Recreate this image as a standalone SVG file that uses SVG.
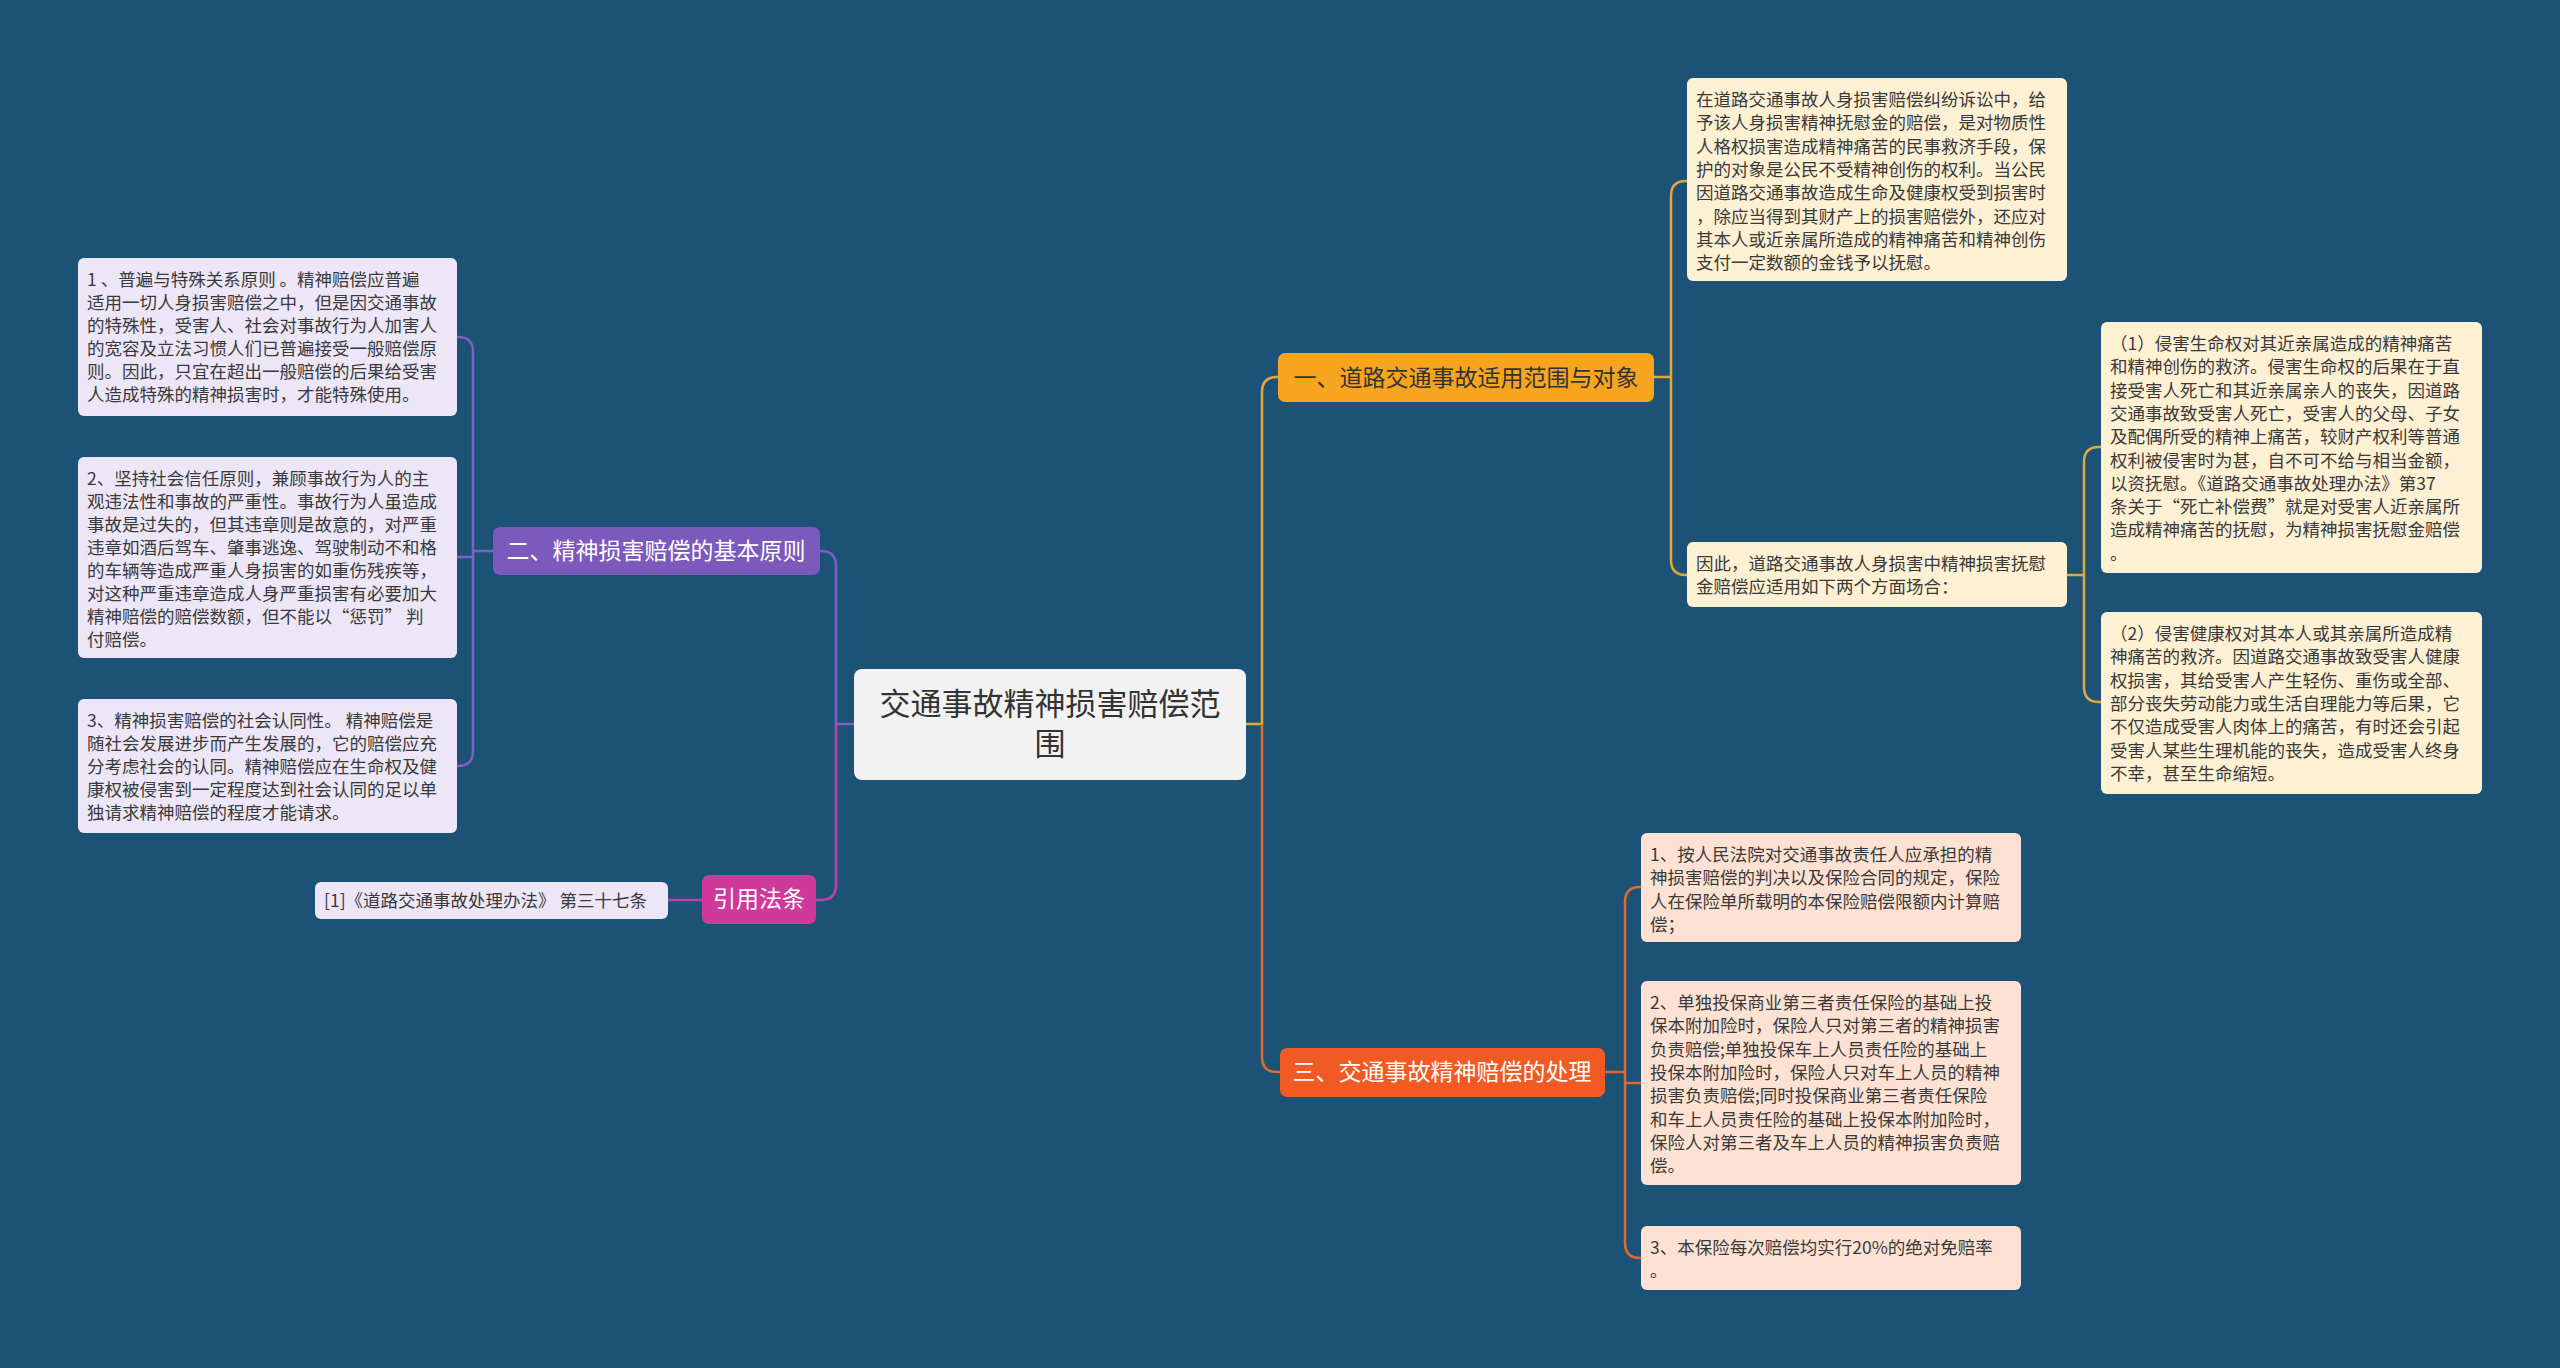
<svg xmlns="http://www.w3.org/2000/svg" width="2560" height="1368" viewBox="0 0 2560 1368">
<style>
text{font-family:"Noto Sans CJK SC","Noto Sans",sans-serif;}
.t{font-size:17.5px;fill:#3a3a3a;}
.c{fill:none;stroke-width:2.5;}
</style>
<rect width="2560" height="1368" fill="#1b5276"/>
<g id="connectors">
<path class="c" stroke="#e0a93a" d="M1246,724 H1262 V392 Q1262,377 1277,377 H1278"/>
<path class="c" stroke="#e06a2c" d="M1262,724 V1057 Q1262,1072 1277,1072 H1280"/>
<path class="c" stroke="#e0a93a" d="M1654,377 H1671 V196 Q1671,181 1686,181 H1687 M1671,377 V560 Q1671,575 1686,575 H1687"/>
<path class="c" stroke="#e0a93a" d="M2067,575 H2084 V462 Q2084,447 2099,447 H2101 M2084,575 V687 Q2084,702 2099,702 H2101"/>
<path class="c" stroke="#e06a2c" d="M1605,1072 H1625 V902 Q1625,887 1640,887 H1641 M1625,1072 V1243 Q1625,1258 1640,1258 H1641 M1625,1083 H1641"/>
<path class="c" stroke="#7e5fc4" d="M854,724 H836 V566 Q836,551 821,551 H820"/>
<path class="c" stroke="#c23fa8" d="M836,724 V885 Q836,900 821,900 H816"/>
<path class="c" stroke="#7e5fc4" d="M493,551 H473 V352 Q473,337 458,337 H457 M473,551 V751 Q473,766 458,766 H457 M473,557 H457"/>
<path class="c" stroke="#c23fa8" d="M702,900 H668"/>
</g>
<g id="center"><rect x="854" y="669" width="392" height="111" rx="8" fill="#f2f2f2"/>
<text x="1050" y="715" font-size="31" fill="#333" text-anchor="middle">交通事故精神损害赔偿范<tspan x="1050" dy="40">围</tspan></text></g>
<g id="b1"><rect x="1278" y="353" width="376" height="49" rx="7" fill="#f7a51e"/>
<text x="1466" y="386" font-size="23" fill="#333" text-anchor="middle">一、道路交通事故适用范围与对象</text></g>
<g id="b2"><rect x="493" y="527" width="327" height="48" rx="7" fill="#7c59bd"/>
<text x="656" y="559" font-size="23" fill="#fff" text-anchor="middle">二、精神损害赔偿的基本原则</text></g>
<g id="b3"><rect x="1280" y="1048" width="325" height="49" rx="7" fill="#f15a22"/>
<text x="1442" y="1080" font-size="23" fill="#fff" text-anchor="middle">三、交通事故精神赔偿的处理</text></g>
<g id="cite"><rect x="702" y="875" width="114" height="49" rx="7" fill="#cf3a9a"/>
<text x="759" y="907" font-size="23" fill="#fff" text-anchor="middle">引用法条</text></g>
<g id="citeleaf"><rect x="315" y="882" width="353" height="37" rx="6" fill="#ece6f7"/>
<text class="t" x="324" y="907">[1]《道路交通事故处理办法》 第三十七条</text></g>
<g id="l1"><rect x="78" y="258" width="379" height="158" rx="6" fill="#ece6f7"/>
<text class="t" x="87" y="286">1 、普遍与特殊关系原则 。精神赔偿应普遍<tspan x="87" dy="23">适用一切人身损害赔偿之中，但是因交通事故</tspan><tspan x="87" dy="23">的特殊性，受害人、社会对事故行为人加害人</tspan><tspan x="87" dy="23">的宽容及立法习惯人们已普遍接受一般赔偿原</tspan><tspan x="87" dy="23">则。因此，只宜在超出一般赔偿的后果给受害</tspan><tspan x="87" dy="23">人造成特殊的精神损害时，才能特殊使用。</tspan></text></g>
<g id="l2"><rect x="78" y="457" width="379" height="201" rx="6" fill="#ece6f7"/>
<text class="t" x="87" y="485">2、坚持社会信任原则，兼顾事故行为人的主<tspan x="87" dy="23">观违法性和事故的严重性。事故行为人虽造成</tspan><tspan x="87" dy="23">事故是过失的，但其违章则是故意的，对严重</tspan><tspan x="87" dy="23">违章如酒后驾车、肇事逃逸、驾驶制动不和格</tspan><tspan x="87" dy="23">的车辆等造成严重人身损害的如重伤残疾等，</tspan><tspan x="87" dy="23">对这种严重违章造成人身严重损害有必要加大</tspan><tspan x="87" dy="23">精神赔偿的赔偿数额，但不能以“惩罚” 判</tspan><tspan x="87" dy="23">付赔偿。</tspan></text></g>
<g id="l3"><rect x="78" y="699" width="379" height="134" rx="6" fill="#ece6f7"/>
<text class="t" x="87" y="727">3、精神损害赔偿的社会认同性。 精神赔偿是<tspan x="87" dy="23">随社会发展进步而产生发展的，它的赔偿应充</tspan><tspan x="87" dy="23">分考虑社会的认同。精神赔偿应在生命权及健</tspan><tspan x="87" dy="23">康权被侵害到一定程度达到社会认同的足以单</tspan><tspan x="87" dy="23">独请求精神赔偿的程度才能请求。</tspan></text></g>
<g id="r1"><rect x="1687" y="78" width="380" height="203" rx="6" fill="#fdf0d3"/>
<text class="t" x="1696" y="106">在道路交通事故人身损害赔偿纠纷诉讼中，给<tspan x="1696" dy="23.3">予该人身损害精神抚慰金的赔偿，是对物质性</tspan><tspan x="1696" dy="23.3">人格权损害造成精神痛苦的民事救济手段，保</tspan><tspan x="1696" dy="23.3">护的对象是公民不受精神创伤的权利。当公民</tspan><tspan x="1696" dy="23.3">因道路交通事故造成生命及健康权受到损害时</tspan><tspan x="1696" dy="23.3">，除应当得到其财产上的损害赔偿外，还应对</tspan><tspan x="1696" dy="23.3">其本人或近亲属所造成的精神痛苦和精神创伤</tspan><tspan x="1696" dy="23.3">支付一定数额的金钱予以抚慰。</tspan></text></g>
<g id="r2"><rect x="1687" y="542" width="380" height="65" rx="6" fill="#fdf0d3"/>
<text class="t" x="1696" y="570">因此，道路交通事故人身损害中精神损害抚慰<tspan x="1696" dy="23.3">金赔偿应适用如下两个方面场合：</tspan></text></g>
<g id="r3"><rect x="2101" y="322" width="381" height="251" rx="6" fill="#fdf0d3"/>
<text class="t" x="2110" y="350">（1）侵害生命权对其近亲属造成的精神痛苦<tspan x="2110" dy="23.3">和精神创伤的救济。侵害生命权的后果在于直</tspan><tspan x="2110" dy="23.3">接受害人死亡和其近亲属亲人的丧失，因道路</tspan><tspan x="2110" dy="23.3">交通事故致受害人死亡，受害人的父母、子女</tspan><tspan x="2110" dy="23.3">及配偶所受的精神上痛苦，较财产权利等普通</tspan><tspan x="2110" dy="23.3">权利被侵害时为甚，自不可不给与相当金额，</tspan><tspan x="2110" dy="23.3">以资抚慰。《道路交通事故处理办法》第37</tspan><tspan x="2110" dy="23.3">条关于“死亡补偿费”就是对受害人近亲属所</tspan><tspan x="2110" dy="23.3">造成精神痛苦的抚慰，为精神损害抚慰金赔偿</tspan><tspan x="2110" dy="23.3">。</tspan></text></g>
<g id="r4"><rect x="2101" y="612" width="381" height="182" rx="6" fill="#fdf0d3"/>
<text class="t" x="2110" y="640">（2）侵害健康权对其本人或其亲属所造成精<tspan x="2110" dy="23.3">神痛苦的救济。因道路交通事故致受害人健康</tspan><tspan x="2110" dy="23.3">权损害，其给受害人产生轻伤、重伤或全部、</tspan><tspan x="2110" dy="23.3">部分丧失劳动能力或生活自理能力等后果，它</tspan><tspan x="2110" dy="23.3">不仅造成受害人肉体上的痛苦，有时还会引起</tspan><tspan x="2110" dy="23.3">受害人某些生理机能的丧失，造成受害人终身</tspan><tspan x="2110" dy="23.3">不幸，甚至生命缩短。</tspan></text></g>
<g id="p1"><rect x="1641" y="833" width="380" height="109" rx="6" fill="#fde2d3"/>
<text class="t" x="1650" y="861">1、按人民法院对交通事故责任人应承担的精<tspan x="1650" dy="23.3">神损害赔偿的判决以及保险合同的规定，保险</tspan><tspan x="1650" dy="23.3">人在保险单所载明的本保险赔偿限额内计算赔</tspan><tspan x="1650" dy="23.3">偿；</tspan></text></g>
<g id="p2"><rect x="1641" y="981" width="380" height="204" rx="6" fill="#fde2d3"/>
<text class="t" x="1650" y="1009">2、单独投保商业第三者责任保险的基础上投<tspan x="1650" dy="23.3">保本附加险时，保险人只对第三者的精神损害</tspan><tspan x="1650" dy="23.3">负责赔偿;单独投保车上人员责任险的基础上</tspan><tspan x="1650" dy="23.3">投保本附加险时，保险人只对车上人员的精神</tspan><tspan x="1650" dy="23.3">损害负责赔偿;同时投保商业第三者责任保险</tspan><tspan x="1650" dy="23.3">和车上人员责任险的基础上投保本附加险时，</tspan><tspan x="1650" dy="23.3">保险人对第三者及车上人员的精神损害负责赔</tspan><tspan x="1650" dy="23.3">偿。</tspan></text></g>
<g id="p3"><rect x="1641" y="1226" width="380" height="64" rx="6" fill="#fde2d3"/>
<text class="t" x="1650" y="1254">3、本保险每次赔偿均实行20%的绝对免赔率<tspan x="1650" dy="23.3">。</tspan></text></g>
</svg>
